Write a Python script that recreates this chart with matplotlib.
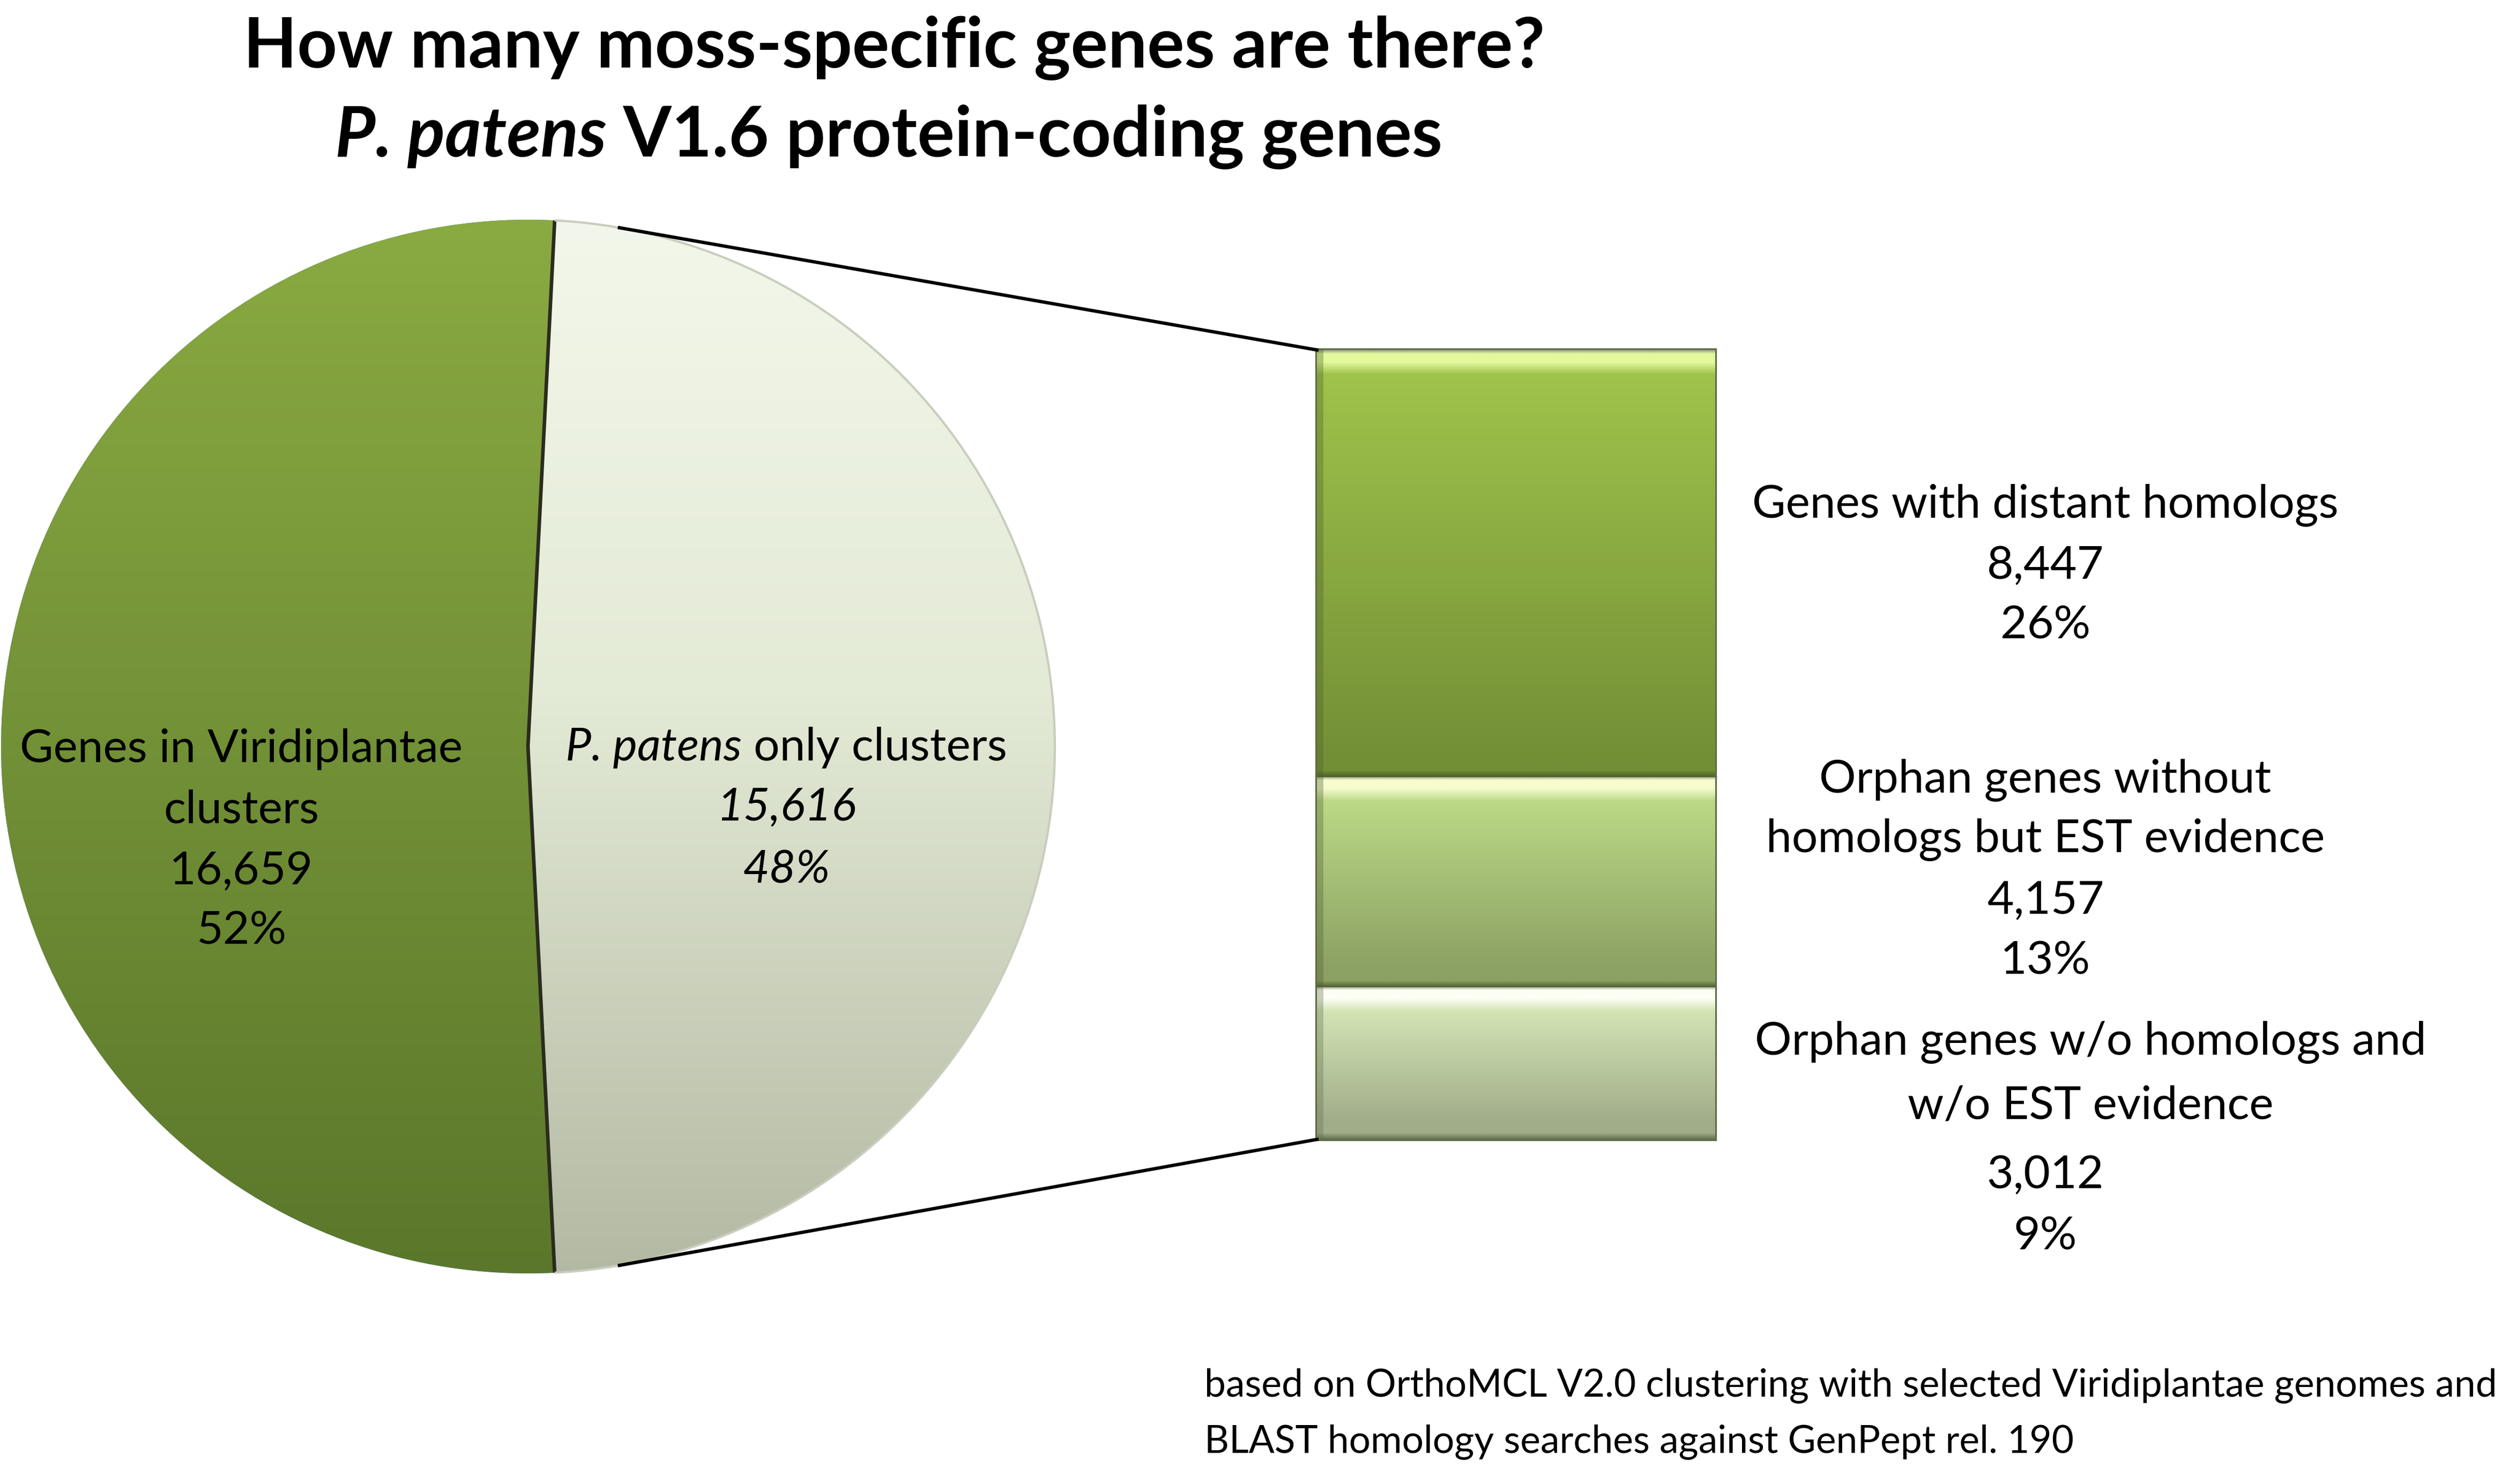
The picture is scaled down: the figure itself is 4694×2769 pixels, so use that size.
import numpy as np
import matplotlib.pyplot as plt
from matplotlib.colors import to_rgb

W, H = 4694, 2769

# chart data
pie_counts = [16659, 15616]
pie_lines = [["Genes in Viridiplantae", "clusters", "16,659", "52%"],
             ["P. patens only clusters", "15,616", "48%"]]
bar_counts = [8447, 4157, 3012]
bar_lines = [["Genes with distant homologs", "8,447", "26%"],
             ["Orphan genes without", "homologs but EST evidence", "4,157", "13%"],
             ["Orphan genes w/o homologs and", "w/o EST evidence", "3,012", "9%"]]
title1 = "How many moss-specific genes are there?"
footnote = ["based on OrthoMCL V2.0 clustering with selected Viridiplantae genomes and",
            "BLAST homology searches against GenPept rel. 190"]

FONT = "Lato"
plt.rcParams['font.family'] = [FONT, 'DejaVu Sans']

fig = plt.figure(figsize=(W / 300, H / 300), dpi=300)
ax = fig.add_axes([0, 0, 1, 1])
renderer = fig.canvas.get_renderer()


def Y(py):
    return H - py


def fill_gradient(patch, extent, pos, colors):
    # vertical gradient, pos 0 = top of extent
    t = np.linspace(0, 1, 512)
    cols = np.array([to_rgb(c) for c in colors])
    rgb = np.stack([np.interp(t, pos, cols[:, k]) for k in range(3)], axis=1)
    im = ax.imshow(rgb[:, None, :], extent=extent, aspect='auto', origin='upper',
                   interpolation='bilinear', zorder=patch.get_zorder() + 0.1)
    im.set_clip_path(patch)


def rich_line(x, y, pieces, size, weight='normal'):
    # pieces: list of (text, style); drawn centered at x
    arts = []
    for txt, style in pieces:
        t = ax.text(0, y, txt, fontsize=size, fontstyle=style, fontweight=weight,
                    ha='left', va='center', zorder=10)
        arts.append(t)
    widths = [a.get_window_extent(renderer).width for a in arts]
    x0 = x - sum(widths) / 2
    for a, w in zip(arts, widths):
        a.set_x(x0)
        x0 += w


# ---- pie ----
cx, cy, r = 985, Y(1393), 983
total = sum(pie_counts)
start = 180 * pie_counts[1] / total
wedges, _ = ax.pie(pie_counts, center=(cx, cy), radius=r, startangle=start,
                   counterclock=True, wedgeprops=dict(linewidth=0))
pie_grad = [([0, 1], ['#8aaa42', '#5b772b']),
            ([0, 0.45, 1], ['#f3f7eb', '#e3ead5', '#b3b9a3'])]
for w, (pos, cols) in zip(wedges, pie_grad):
    fill_gradient(w, (cx - r, cx + r, cy - r, cy + r), pos, cols)

# separator radii
for ang in (start, -start):
    a = np.deg2rad(ang)
    ax.plot([cx, cx + r * np.cos(a)], [cy, cy + r * np.sin(a)], color='#2b2b1f',
            lw=1.6, zorder=5, solid_capstyle='butt')
# soft rim on the light slice
ax.add_patch(plt.matplotlib.patches.Arc((cx, cy), 2 * r, 2 * r, theta1=-start, theta2=start,
                                        ec='#c9cdbd', lw=1.0, zorder=5))

# ---- bar of pie ----
bx0, bx1 = 2457, 3200
btop, bbot = Y(653), Y(2126)
scale = (btop - bbot) / sum(bar_counts)
heights = [v * scale for v in bar_counts]
bottoms = [bbot + sum(heights[i + 1:]) for i in range(len(heights))]
bars = ax.bar([(bx0 + bx1) / 2] * 3, heights, width=bx1 - bx0, bottom=bottoms,
              color='none', edgecolor='#5e6e45', linewidth=1.5, zorder=3)

bar_cols = [('#e2f99c', '#9fc34b', '#738f36', '#4d6127'),
            ('#f6fccf', '#bbd986', '#8ca163', '#4f5f33'),
            ('#fdfef4', '#d3e4b5', '#a1ad89', '#65704f')]
for b, h, (hi, top, bot, dark) in zip(bars, heights, bar_cols):
    y0 = b.get_y()
    pos = [0, 6 / h, 22 / h, 45 / h, 1 - 35 / h, 1 - 12 / h, 1]
    cols = ['#9aa08a', hi, hi, top, bot, bot, dark]
    fill_gradient(b, (bx0, bx1, y0, y0 + h), pos, cols)
    # darker left bevel
    ax.add_patch(plt.Rectangle((bx0, y0), 12, h, color=dark, alpha=0.35, lw=0, zorder=4))

# connector lines
ca = np.deg2rad(80)
ax.plot([cx + r * np.cos(ca), bx0], [cy + r * np.sin(ca), btop], color='black', lw=1.5, zorder=6)
ax.plot([cx + r * np.cos(ca), bx0], [cy - r * np.sin(ca), bbot], color='black', lw=1.5, zorder=6)

# ---- texts ----
lab_size = 20.6
rich_line(450, Y(1398), [(pie_lines[0][0], 'normal')], lab_size)
for txt, py in zip(pie_lines[0][1:], [1512, 1626, 1737]):
    rich_line(450, Y(py), [(txt, 'normal')], lab_size)

rich_line(1467, Y(1395), [("P. patens", 'italic'), (" only clusters", 'normal')], lab_size)
for txt, py in zip(pie_lines[1][1:], [1506, 1623]):
    rich_line(1467, Y(py), [(txt, 'italic')], lab_size)

bar_text_pos = [[(3816, 942), (3816, 1056), (3816, 1167)],
                [(3816, 1455), (3816, 1566), (3816, 1680), (3816, 1794)],
                [(3900, 1944), (3900, 2064), (3816, 2193), (3816, 2307)]]
for lines, posl in zip(bar_lines, bar_text_pos):
    for txt, (px, py) in zip(lines, posl):
        rich_line(px, Y(py), [(txt, 'normal')], lab_size)

title_size = 31.2
rich_line(1668, Y(90), [(title1, 'normal')], title_size, weight='bold')
rich_line(1658, Y(255), [("P. patens", 'italic'), (" V1.6 protein-coding genes", 'normal')],
          title_size, weight='bold')

for txt, py in zip(footnote, [2586, 2691]):
    ax.text(2247, Y(py), txt, fontsize=17.1, ha='left', va='center')

ax.set_xlim(0, W)
ax.set_ylim(0, H)
ax.set_aspect('auto')
ax.axis('off')
fig.savefig("out.png", dpi=300, facecolor='white')
